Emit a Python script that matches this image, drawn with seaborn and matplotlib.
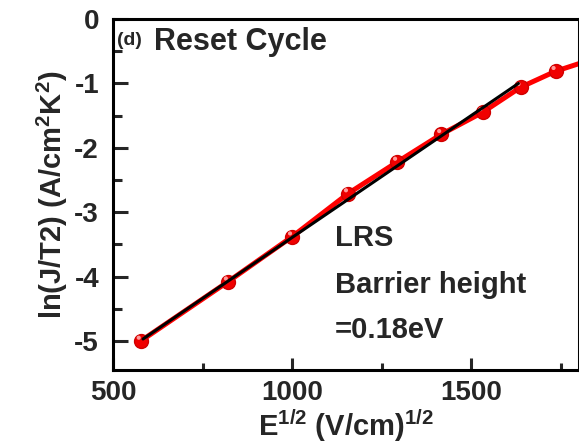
import numpy as np
import pandas as pd
import matplotlib
matplotlib.use("Agg")
import matplotlib.pyplot as plt
from matplotlib.ticker import MultipleLocator
import seaborn as sns

# Schottky emission analysis, reset cycle (LRS)
sqrt_field = [578, 821, 1000, 1156, 1293, 1416, 1531, 1637, 1735, 1840]
ln_j_t2 = [-5.00, -4.08, -3.38, -2.71, -2.22, -1.79, -1.45, -1.06, -0.81, -0.62]

# Linear fit over the low-field region
fit_x = [584, 1631]
fit_y = [-4.97, -1.00]

df = pd.DataFrame({"E": sqrt_field, "lnJ": ln_j_t2})
fit_df = pd.DataFrame({"E": fit_x, "lnJ": fit_y})

sns.set_style("ticks")
plt.rcParams["font.family"] = ["Liberation Sans", "DejaVu Sans"]
plt.rcParams["font.weight"] = "bold"
plt.rcParams["axes.unicode_minus"] = False
plt.rcParams["mathtext.fontset"] = "custom"
plt.rcParams["mathtext.rm"] = "Liberation Sans:bold"
plt.rcParams["mathtext.bf"] = "Liberation Sans:bold"
plt.rcParams["mathtext.default"] = "bf"

fig = plt.figure(figsize=(5.79, 4.43), dpi=100)
ax = fig.add_axes([0.195, 0.165, 0.805, 0.792])

sns.lineplot(data=df, x="E", y="lnJ", ax=ax, color="#ff0000", lw=3.6,
             marker="o", markersize=10, markerfacecolor="#f00000",
             markeredgecolor="#d00000", markeredgewidth=1.0, zorder=2)
# specular highlight on each sphere marker
ax.scatter(np.array(sqrt_field) - 6, np.array(ln_j_t2) + 0.05, s=9,
           color="#ff9a9a", edgecolor="none", zorder=3)
sns.lineplot(data=fit_df, x="E", y="lnJ", ax=ax, color="black", lw=2.2, zorder=4)

ax.set_xlim(500, 1800)
ax.set_ylim(-5.45, 0)
ax.xaxis.set_major_locator(MultipleLocator(500))
ax.xaxis.set_minor_locator(MultipleLocator(250))
ax.yaxis.set_major_locator(MultipleLocator(1))
ax.yaxis.set_minor_locator(MultipleLocator(0.5))
ax.tick_params(which="both", direction="in", width=2.2, top=False, right=False)
ax.tick_params(axis="x", which="major", length=8.6, labelsize=20, pad=7)
ax.tick_params(axis="x", which="minor", length=5)
ax.tick_params(axis="y", which="major", length=10.5, labelsize=20, pad=10)
ax.tick_params(axis="y", which="minor", length=6.5)
for lab in ax.get_xticklabels() + ax.get_yticklabels():
    lab.set_fontweight("bold")
for sp in ax.spines.values():
    sp.set_linewidth(2.2)
    sp.set_color("black")

ax.set_xlabel(r"E$^{1/2}$ (V/cm)$^{1/2}$", fontsize=21,
              fontweight="bold", labelpad=1)
ax.set_ylabel(r"ln(J/T2) (A/cm$^2$K$^2$)", fontsize=21,
              fontweight="bold", labelpad=3)

ax.text(0.008, 0.962, "(d)", transform=ax.transAxes, fontsize=14,
        fontweight="bold", va="top", ha="left")
ax.text(0.088, 0.976, "Reset Cycle", transform=ax.transAxes, fontsize=22,
        fontweight="bold", va="top", ha="left")

ax.text(0.476, 0.376, "LRS", transform=ax.transAxes, fontsize=21,
        fontweight="bold", va="center", ha="left")
ax.text(0.476, 0.242, "Barrier height", transform=ax.transAxes, fontsize=21,
        fontweight="bold", va="center", ha="left")
ax.text(0.476, 0.114, "=0.18eV", transform=ax.transAxes, fontsize=21,
        fontweight="bold", va="center", ha="left")

fig.savefig("out.png", dpi=100)
